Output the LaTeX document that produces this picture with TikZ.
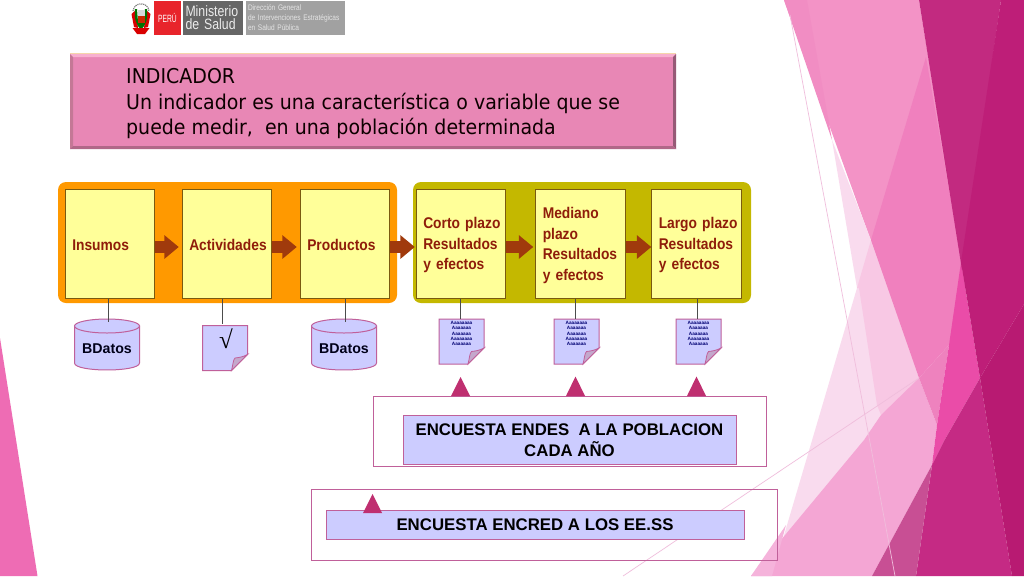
\documentclass[tikz,border=0pt]{standalone}
\usepackage{fontspec}
\usetikzlibrary{arrows.meta,calc}
\setmainfont{Liberation Sans}
\newfontfamily\narrowfont[FakeStretch=0.89]{Liberation Sans}
\newfontfamily\logofont[FakeStretch=0.82]{Liberation Sans}
\newfontfamily\titlefont[FakeStretch=0.93]{DejaVu Sans}
\newfontfamily\rootfont{Liberation Serif}
\definecolor{boxline}{HTML}{7A5A10}
\definecolor{stage}{HTML}{8F1D0A}
\definecolor{arrowc}{HTML}{A03A0C}
\definecolor{lilac}{HTML}{CCCCFF}
\definecolor{edgepink}{HTML}{C0609A}
\definecolor{tri}{HTML}{BF2F70}
\definecolor{stagefill}{HTML}{FFFF99}
\definecolor{foldf}{HTML}{C4A8CC}
\definecolor{sLeft}{HTML}{EE6CB4}
\definecolor{sLight}{HTML}{F393C6}
\definecolor{sLightB}{HTML}{F18DC3}
\definecolor{sMid}{HTML}{F080BE}
\definecolor{sMidB}{HTML}{EE82BE}
\definecolor{sHot}{HTML}{EA4CA8}
\definecolor{sDarkA}{HTML}{C22A80}
\definecolor{sDarkB}{HTML}{BE1E78}
\definecolor{sDarkC}{HTML}{C52A84}
\definecolor{sDarkD}{HTML}{B81A72}
\definecolor{sDuskA}{HTML}{C84F94}
\definecolor{sLow}{HTML}{F4A6D4}
\definecolor{sPale}{HTML}{F9DBEE}
\definecolor{sPaleB}{HTML}{F8C8E4}
\definecolor{sThin}{HTML}{F0BEDC}
\definecolor{titlefill}{HTML}{E887B5}
\definecolor{bevelT}{HTML}{F8B0D0}
\definecolor{bevelO}{HTML}{F5D5AA}
\definecolor{bevelL}{HTML}{C47896}
\definecolor{bevelR}{HTML}{965A76}
\definecolor{bevelB}{HTML}{B06888}
\definecolor{orangeP}{HTML}{FF9900}
\definecolor{oliveP}{HTML}{C4B800}
\definecolor{peruRed}{HTML}{E8242B}
\tikzset{
  x=1pt,y=-1pt,
  stagebox/.style={draw=boxline,line width=1pt,fill=stagefill,minimum height=109pt,
    inner xsep=7pt,inner ysep=0pt,text width=75.5pt,align=left,text=stage,
    execute at begin node={\rule{0pt}{15pt}},
    font=\narrowfont\bfseries\fontsize{15.5}{20.6}\selectfont},
  flow/.style={line width=12pt,arrowc,-{Triangle[length=14.5pt,width=23pt]}},
  stem/.style={draw=black!70,line width=1pt},
  bdb/.style={text=black!90!blue,font=\bfseries\fontsize{14.2}{16}\selectfont,inner sep=0pt},
  docline/.style={draw=edgepink,fill=lilac,line width=1pt},
  foldc/.style={draw=edgepink,fill=foldf,line width=.8pt},
  frame/.style={draw=edgepink,line width=1pt},
  surveybox/.style={draw=edgepink,line width=.9pt,fill=lilac,inner sep=0pt,align=center,
    font=\bfseries\fontsize{16.8}{21}\selectfont},
  tinytext/.style={inner sep=0pt,align=center,text=black!55!blue,font=\bfseries\fontsize{4.7}{5.4}\selectfont},
  triangle mark/.style={fill=tri},
}
\newcommand{\docshape}[3]{% name, cx, cy
  \draw[docline] (#2-22.5,#3-22.5) -- (#2+22.5,#3-22.5) -- (#2+22.5,#3+6.5) -- (#2+6.5,#3+22.5) -- (#2-22.5,#3+22.5) -- cycle;
  \draw[foldc] (#2+6.5,#3+22.5) .. controls (#2+8,#3+17) and (#2+8,#3+12) .. (#2+10,#3+10) .. controls (#2+14,#3+9.5) and (#2+18,#3+9) .. (#2+22.5,#3+6.5) -- cycle;
  \node[inner sep=0pt,minimum width=45pt,minimum height=45pt] (#1) at (#2,#3) {};
}
\newcommand{\cylshape}[3]{% name, cx, text
  \draw[docline] (#2-32.5,326) -- (#2-32.5,363) .. controls (#2-32.5,372.3) and (#2+32.5,372.3) .. (#2+32.5,363) -- (#2+32.5,326) -- cycle;
  \draw[docline] (#2,326) ellipse[x radius=32.5,y radius=7];
  \node[bdb,minimum width=65pt] (#1) at (#2,349) {#3};
}
\newcommand{\tinydoc}{Aaaaaaaa\\Aaaaaaa\\Aaaaaaa\\Aaaaaaaa\\Aaaaaaa}
\begin{document}
\begin{tikzpicture}
\useasboundingbox (0,0) rectangle (1024,576);
\fill[white] (0,0) rectangle (1024,576);
% --- background shards
\fill[sLeft] (0,338) -- (37.5,576) -- (0,576) -- cycle;
\fill[sLight] (784,0) -- (919,0) -- (966,288) -- (888,288) -- cycle;
\fill[sLightB] (784,0) -- (807,0) -- (832,140) -- cycle;
\fill[sPale] (832,140) -- (871,240) -- (888,288) -- (919,378) -- (864,440) -- (772,576) -- (857,288) -- cycle;
\fill[sPaleB] (871,240) -- (888,288) -- (857,288) -- cycle;
\fill[sPaleB] (859,288) -- (888,288) -- (919,378) -- (881,415) -- (877,405) -- cycle;
\fill[sMid] (926,57) -- (966,288) -- (949,345) -- (919,378) -- (871,240) -- cycle;
\fill[sLow] (751,576) -- (864,440) -- (881,415) -- (919,378) -- (937,425) -- (932,465) -- (872,576) -- cycle;
\fill[sLow!75!sPale] (751,576) -- (772,576) -- (786,525) -- cycle;
\fill[sMidB] (919,378) -- (949,345) -- (937,425) -- cycle;
\fill[sHot] (961,262) -- (980,378) -- (944,441) -- (932,465) -- (937,425) -- (949,345) -- cycle;
\fill[sDarkA] (919,0) -- (1001,0) -- (962,270) -- cycle;
\fill[sDarkB] (1001,0) -- (1024,0) -- (1024,304) -- (980,378) -- (961,262) -- cycle;
\fill[sDarkC] (980,378) -- (1012,576) -- (916,576) -- (932,465) -- (944,441) -- cycle;
\fill[sDarkD] (980,378) -- (1024,304) -- (1024,576) -- (1012,576) -- cycle;
\fill[sDuskA] (872,576) -- (932,465) -- (916,576) -- cycle;
\draw[sThin,line width=.7pt] (790,15) -- (895,576);
\draw[sThin,line width=.7pt] (623,576) -- (919,378);
% --- logo
\draw[black!50,line width=1.2pt,dash pattern=on 1.2pt off .8pt] (133,11) .. controls (134,1.5) and (148,1.5) .. (149,11);
\fill[red!85!black] (131.5,14) -- (136,10) -- (138,28) -- (134,27) -- cycle;
\fill[red!85!black] (150.5,14) -- (146,10) -- (144,28) -- (148,27) -- cycle;
\fill[green!45!black] (135,9) .. controls (134,18) and (136,25) .. (141,30) .. controls (146,25) and (148,18) .. (147,9) -- (145,9) -- (144,22) -- (138,22) -- (137,9) -- cycle;
\fill[black!15] (137.5,10) rectangle (144.5,16);
\fill[red!60!orange!80!black] (137.5,16) rectangle (144.5,23);
\fill[red!85!black] (132.5,28) -- (149.5,28) -- (145,34) -- (137,34) -- cycle;
\node[fill=peruRed,minimum width=27pt,minimum height=34pt,inner sep=0pt,text=white,font=\logofont\fontsize{10.5}{12}\selectfont] (peru) at (167.5,18) {\scalebox{.78}[1]{PERÚ}};
\node[fill=black!60,minimum width=60pt,minimum height=34pt,inner xsep=2.5pt,inner ysep=0pt,text width=55pt,align=left,text=black!8,font=\logofont\fontsize{15}{13}\selectfont] (minsa) at (213,18) {Ministerio\\de~Salud};
\node[fill=black!37,minimum width=99.5pt,minimum height=34pt,inner xsep=2.5pt,inner ysep=0pt,text width=94.5pt,align=left,text=black!10,font=\logofont\fontsize{8}{10}\selectfont] (dir) at (295.25,18) {Dirección General\\de~Intervenciones~Estratégicas\\en~Salud~Pública};
% --- title box
\node[fill=titlefill,minimum width=606pt,minimum height=95pt,inner sep=0pt] (title) at (373,101.5) {};
\fill[bevelT] (70,54) -- (676,54) -- (673,57) -- (73,57) -- cycle;
\draw[bevelO,line width=.7pt] (70,53.5) -- (676,53.5);
\fill[bevelL] (70,54) -- (73,57) -- (73,146) -- (70,149) -- cycle;
\fill[bevelR] (676,54) -- (673,57) -- (673,146) -- (676,149) -- cycle;
\fill[bevelB] (70,149) -- (73,146) -- (673,146) -- (676,149) -- cycle;
\node[inner sep=0pt,anchor=north west,align=left,text=black!95!red,font=\titlefont\fontsize{20.4}{25.5}\selectfont] (titletext) at (126,68.5) {INDICADOR\\Un indicador es una característica o variable que se\\puede medir,\ \ en una población determinada};
% --- group panels
\fill[rounded corners=8pt,orangeP] (58,182) rectangle (397,303);
\fill[rounded corners=8pt,oliveP] (413,182) rectangle (751,303);
% --- stages
\node[stagebox] (ins) at (110,243.5) {Insumos};
\node[stagebox] (act) at (227,243.5) {Actividades};
\node[stagebox] (pro) at (345,243.5) {Productos};
\node[stagebox] (cor) at (461,243.5) {Corto~plazo\\Resultados\\y~efectos};
\node[stagebox] (med) at (580.5,243.5) {Mediano\\plazo\\Resultados\\y~efectos};
\node[stagebox] (lar) at (696.5,243.5) {Largo~plazo\\Resultados\\y~efectos};
% --- flow arrows
\draw[flow,shorten >=3pt] ($(ins.east)+(0,3.5)$) -- ($(act.west)+(0,3.5)$);
\draw[flow,shorten >=3pt] ($(act.east)+(0,3.5)$) -- ($(pro.west)+(0,3.5)$);
\draw[flow,shorten >=1pt] ($(pro.east)+(0,3.5)$) -- ($(cor.west)+(0,3.5)$);
\draw[flow,shorten >=2pt] ($(cor.east)+(0,3.5)$) -- ($(med.west)+(0,3.5)$);
\draw[flow] ($(med.east)+(0,3.5)$) -- ($(lar.west)+(0,3.5)$);
% --- sources
\cylshape{c1}{107}{BDatos}
\cylshape{c2}{344}{BDatos}
\docshape{d0}{225}{348}
\node[inner sep=0pt,font=\rootfont\bfseries\fontsize{25}{25}\selectfont] (root) at (226,339) {√};
\docshape{d1}{461.5}{341.5}
\docshape{d2}{576.5}{341.5}
\docshape{d3}{698.5}{341.5}
\node[tinytext] (t1) at (461.5,333.5) {\tinydoc};
\node[tinytext] (t2) at (576.5,333.5) {\tinydoc};
\node[tinytext] (t3) at (698.5,333.5) {\tinydoc};
% --- stems
\coordinate (s1) at (108,322);
\coordinate (s2) at (222,324);
\coordinate (s3) at (345,322);
\coordinate (s4) at (460,319);
\coordinate (s5) at (575,319);
\coordinate (s6) at (697,319);
\draw[stem] (ins.south -| s1) -- (s1);
\draw[stem] (act.south -| s2) -- (s2);
\draw[stem] (pro.south -| s3) -- (s3);
\draw[stem] (cor.south -| s4) -- (s4);
\draw[stem] (med.south -| s5) -- (s5);
\draw[stem] (lar.south -| s6) -- (s6);
% --- surveys
\draw[frame] (373,396) rectangle (766,466);
\node[surveybox,minimum width=333pt,minimum height=49pt] (endes) at (569.5,439.5) {\rule{0pt}{14pt}ENCUESTA ENDES\ \ A LA POBLACION\\CADA AÑO};
\draw[frame] (311,489) rectangle (777,560);
\node[surveybox,minimum width=418pt,minimum height=29pt] (encred) at (535,524.5) {\rule[-1pt]{0pt}{13pt}ENCUESTA ENCRED A LOS EE.SS};
\fill[triangle mark] (451,396) -- (460.5,377) -- (470,396) -- cycle;
\fill[triangle mark] (566,396) -- (575.5,376.5) -- (585,396) -- cycle;
\fill[triangle mark] (687,396) -- (696.5,376.5) -- (706,396) -- cycle;
\fill[triangle mark] (363,513) -- (372.5,494) -- (382,513) -- cycle;
\end{tikzpicture}
\end{document}
